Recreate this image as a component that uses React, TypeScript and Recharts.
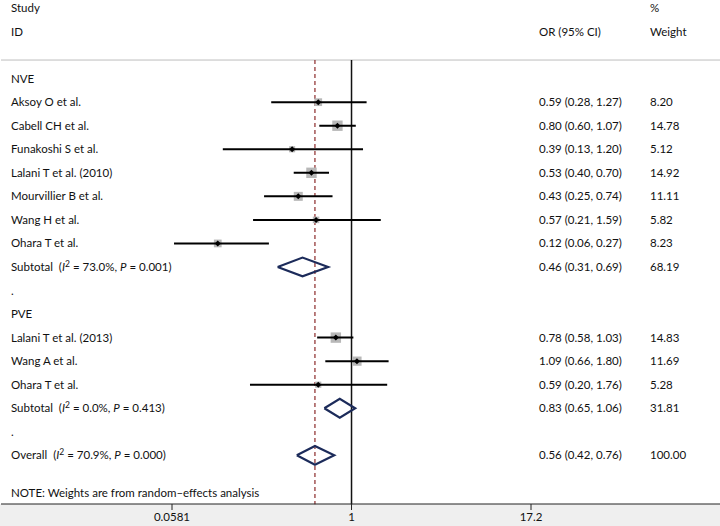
import React from "react";
import {
  ScatterChart,
  Scatter,
  XAxis,
  YAxis,
  ReferenceLine,
} from "recharts";

// Individual studies (odds ratio, 95% CI, % weight)
const studies = [
  "Aksoy O et al.",
  "Cabell CH et al.",
  "Funakoshi S et al.",
  "Lalani T et al. (2010)",
  "Mourvillier B et al.",
  "Wang H et al.",
  "Ohara T et al.",
  "Lalani T et al. (2013)",
  "Wang A et al.",
  "Ohara T et al.",
];
const studyRows = [4, 5, 6, 7, 8, 9, 10, 14, 15, 16];
const studyOR = [0.59, 0.8, 0.39, 0.53, 0.43, 0.57, 0.12, 0.78, 1.09, 0.59];
const studyLow = [0.28, 0.6, 0.13, 0.4, 0.25, 0.21, 0.06, 0.58, 0.66, 0.2];
const studyHigh = [1.27, 1.07, 1.2, 0.7, 0.74, 1.59, 0.27, 1.03, 1.8, 1.76];
const studyWeight = ["8.20", "14.78", "5.12", "14.92", "11.11", "5.82", "8.23", "14.83", "11.69", "5.28"];

// Pooled estimates
const pooledNames = ["Subtotal", "Subtotal", "Overall"];
const pooledRows = [11, 17, 19];
const pooledOR = [0.46, 0.83, 0.56];
const pooledLow = [0.31, 0.65, 0.42];
const pooledHigh = [0.69, 1.06, 0.76];
const pooledWeight = ["68.19", "31.81", "100.00"];
const pooledI2 = ["73.0%", "0.0%", "70.9%"];
const pooledP = ["0.001", "0.413", "0.000"];

// Group headings and other plain rows
const plainRows = [3, 12, 13, 18];
const plainText = ["NVE", ".", "PVE", "."];
const noteRow = 20.6;
const noteText = "NOTE: Weights are from random\u2013effects analysis";

const xTicks = [0.0581, 1, 17.2];
const overallOR = 0.56;
const lineTop = 2.21;
const lineBottom = 21.08;

const FONT = "Lato, 'Open Sans', sans-serif";
const TEXT = "#111";
const FS = 11.5;

const fmt = (v: number) => v.toFixed(2);

type RowInfo = {
  label?: string;
  pooled?: number;
  ci?: string;
  weight?: string;
};

const rowInfo = new Map<number, RowInfo>();
rowInfo.set(0, { label: "Study", weight: "%" });
rowInfo.set(1, { label: "ID", ci: "OR (95% CI)", weight: "Weight" });
plainRows.forEach((r, i) => rowInfo.set(r, { label: plainText[i] }));
studies.forEach((s, i) =>
  rowInfo.set(studyRows[i], {
    label: s,
    ci: `${fmt(studyOR[i])} (${fmt(studyLow[i])}, ${fmt(studyHigh[i])})`,
    weight: studyWeight[i],
  })
);
pooledNames.forEach((s, i) =>
  rowInfo.set(pooledRows[i], {
    label: s,
    pooled: i,
    ci: `${fmt(pooledOR[i])} (${fmt(pooledLow[i])}, ${fmt(pooledHigh[i])})`,
    weight: pooledWeight[i],
  })
);
rowInfo.set(noteRow, { label: noteText });

const allRows = Array.from(rowInfo.keys()).sort((a, b) => a - b);

const boxData = studies.map((s, i) => ({
  x: studyOR[i],
  y: studyRows[i],
  w: parseFloat(studyWeight[i]),
}));

const ciData = studies.map((s, i) => [
  { x: studyLow[i], y: studyRows[i] },
  { x: studyHigh[i], y: studyRows[i] },
]);

const diamondData = pooledNames.map((s, i) => [
  { x: pooledLow[i], y: pooledRows[i] },
  { x: pooledOR[i], y: pooledRows[i] - 0.4 },
  { x: pooledHigh[i], y: pooledRows[i] },
  { x: pooledOR[i], y: pooledRows[i] + 0.4 },
  { x: pooledLow[i], y: pooledRows[i] },
]);

const RowTick = (props: any) => {
  const { y, payload } = props;
  const info = rowInfo.get(payload.value);
  if (!info) return null;
  const common = { fontFamily: FONT, fontSize: FS, fill: TEXT, dy: 4 };
  let left: React.ReactNode = info.label;
  if (info.pooled !== undefined) {
    const i = info.pooled;
    left = (
      <>
        {info.label + "\u00a0\u00a0("}
        <tspan fontStyle="italic">I</tspan>
        <tspan dy={-4} fontSize={8.5}>2</tspan>
        <tspan dy={4}>{` = ${pooledI2[i]}, `}</tspan>
        <tspan fontStyle="italic">P</tspan>
        {` = ${pooledP[i]})`}
      </>
    );
  }
  return (
    <g>
      <text x={11} y={y} textAnchor="start" {...common}>
        {left}
      </text>
      {info.ci && (
        <text x={539} y={y} textAnchor="start" {...common}>
          {info.ci}
        </text>
      )}
      {info.weight && (
        <text x={650} y={y} textAnchor="start" {...common}>
          {info.weight}
        </text>
      )}
    </g>
  );
};

const WeightBox = (props: any) => {
  const { cx, cy, payload } = props;
  const side = 2.7 * Math.sqrt(payload.w);
  return (
    <rect x={cx - side / 2} y={cy - side / 2} width={side} height={side} fill="#b8b8b8" />
  );
};

const CenterMark = (props: any) => {
  const { cx, cy } = props;
  const h = 3;
  return (
    <polygon
      points={`${cx - h},${cy} ${cx},${cy - h} ${cx + h},${cy} ${cx},${cy + h}`}
      fill="#000"
    />
  );
};

const NoShape = () => <g />;

export default function App() {
  return (
    <div
      style={{
        position: "absolute",
        left: 0,
        top: 0,
        width: 720,
        height: 526,
        background: "#fff",
      }}
    >
      <div
        style={{
          position: "absolute",
          left: 0,
          top: 504,
          width: 720,
          height: 22,
          background: "#efefef",
        }}
      />
      <div style={{ position: "absolute", left: 0, top: 0 }}>
        <ScatterChart
          width={720}
          height={526}
          margin={{ top: 0, right: 0, bottom: 0, left: 0 }}
        >
          <XAxis
            type="number"
            dataKey="x"
            scale="log"
            domain={[0.0581, 17.2]}
            allowDataOverflow
            ticks={xTicks}
            interval={0}
            padding={{ left: 171, right: 189 }}
            height={22}
            tickSize={6}
            tickMargin={3}
            tickFormatter={(v: number) => String(v)}
            tick={{ fontFamily: FONT, fontSize: FS, fill: TEXT }}
            axisLine={{ stroke: "#222", strokeWidth: 1 }}
            tickLine={{ stroke: "#222" }}
          />
          <YAxis
            type="number"
            dataKey="y"
            domain={[0, noteRow]}
            reversed
            allowDataOverflow
            width={1}
            padding={{ top: 8, bottom: 11 }}
            ticks={allRows}
            interval={0}
            axisLine={false}
            tickLine={false}
            tick={<RowTick />}
          />
          <ReferenceLine y={lineTop} stroke="#bdbdbd" strokeWidth={1} />
          <ReferenceLine
            segment={[
              { x: 1, y: lineTop },
              { x: 1, y: lineBottom },
            ]}
            stroke="#111"
            strokeWidth={1.5}
            ifOverflow="visible"
          />
          <ReferenceLine
            segment={[
              { x: overallOR, y: lineTop },
              { x: overallOR, y: lineBottom },
            ]}
            stroke="#8b2a2a"
            strokeWidth={1.2}
            strokeDasharray="4 3"
            ifOverflow="visible"
          />
          <Scatter data={boxData} shape={<WeightBox />} isAnimationActive={false} />
          {ciData.map((d, i) => (
            <Scatter
              key={`ci-${i}`}
              data={d}
              line={{ stroke: "#000", strokeWidth: 2 }}
              shape={<NoShape />}
              isAnimationActive={false}
            />
          ))}
          <Scatter data={boxData} shape={<CenterMark />} isAnimationActive={false} />
          {diamondData.map((d, i) => (
            <Scatter
              key={`dm-${i}`}
              data={d}
              line={{ stroke: "#1c2b5a", strokeWidth: 2.2 }}
              shape={<NoShape />}
              isAnimationActive={false}
            />
          ))}
        </ScatterChart>
      </div>
    </div>
  );
}
